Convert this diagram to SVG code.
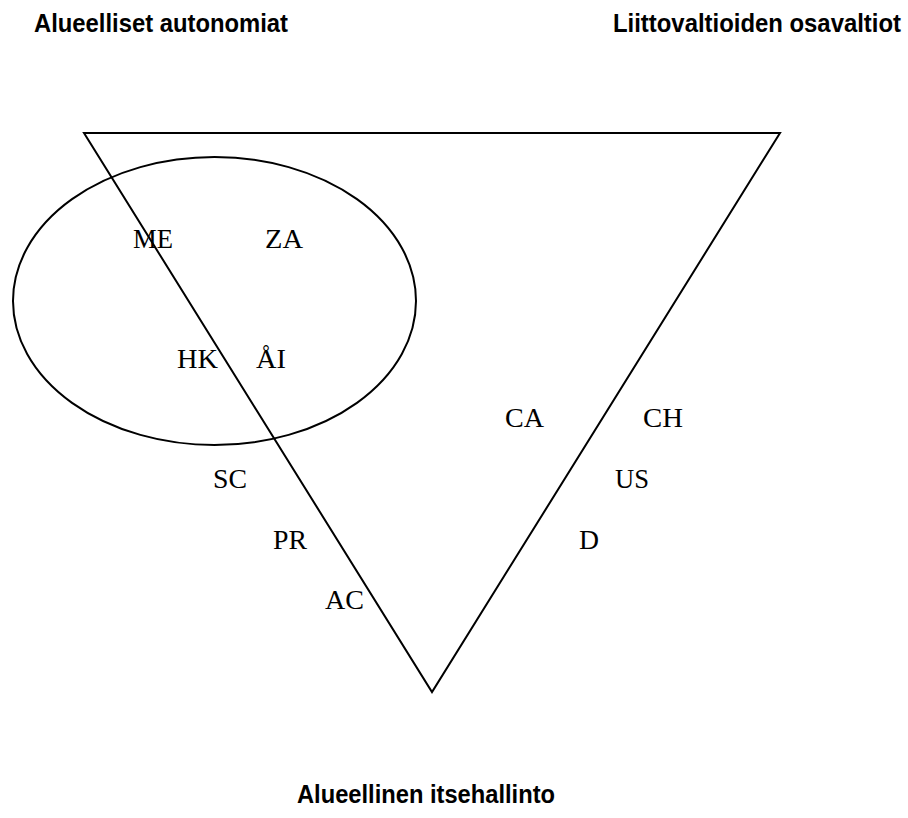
<svg xmlns="http://www.w3.org/2000/svg" width="908" height="818" viewBox="0 0 908 818">
<style>
.shape{fill:none;stroke:#000;stroke-width:2}
.lbl{font-family:"Liberation Serif","Times New Roman",serif;font-size:27px;fill:#000}
.title{font-family:"Liberation Sans",Arial,sans-serif;font-weight:bold;font-size:26px;fill:#000}
</style>
<rect width="908" height="818" fill="#fff"/>
<g id="titles">
<text class="title" x="34" y="32" textLength="254" lengthAdjust="spacingAndGlyphs">Alueelliset autonomiat</text>
<text class="title" x="613" y="32" textLength="288" lengthAdjust="spacingAndGlyphs">Liittovaltioiden osavaltiot</text>
<text class="title" x="297" y="803" textLength="258" lengthAdjust="spacingAndGlyphs">Alueellinen itsehallinto</text>
</g>
<g id="triangle"><polygon class="shape" points="84,133 780,133 432,692"/></g>
<g id="ellipse"><ellipse class="shape" cx="214.5" cy="301" rx="201.5" ry="144"/></g>
<g id="labels">
<text class="lbl" x="133" y="248" textLength="40" lengthAdjust="spacingAndGlyphs">ME</text>
<text class="lbl" x="265" y="248" textLength="38" lengthAdjust="spacingAndGlyphs">ZA</text>
<text class="lbl" x="177" y="368" textLength="41" lengthAdjust="spacingAndGlyphs">HK</text>
<text class="lbl" x="256" y="368" textLength="30" lengthAdjust="spacingAndGlyphs">ÅI</text>
<text class="lbl" x="505" y="427" textLength="39" lengthAdjust="spacingAndGlyphs">CA</text>
<text class="lbl" x="643" y="427" textLength="40" lengthAdjust="spacingAndGlyphs">CH</text>
<text class="lbl" x="213" y="488" textLength="34" lengthAdjust="spacingAndGlyphs">SC</text>
<text class="lbl" x="615" y="488" textLength="34" lengthAdjust="spacingAndGlyphs">US</text>
<text class="lbl" x="273" y="549" textLength="34" lengthAdjust="spacingAndGlyphs">PR</text>
<text class="lbl" x="579" y="549" textLength="20" lengthAdjust="spacingAndGlyphs">D</text>
<text class="lbl" x="325" y="609" textLength="39" lengthAdjust="spacingAndGlyphs">AC</text>
</g>
</svg>
